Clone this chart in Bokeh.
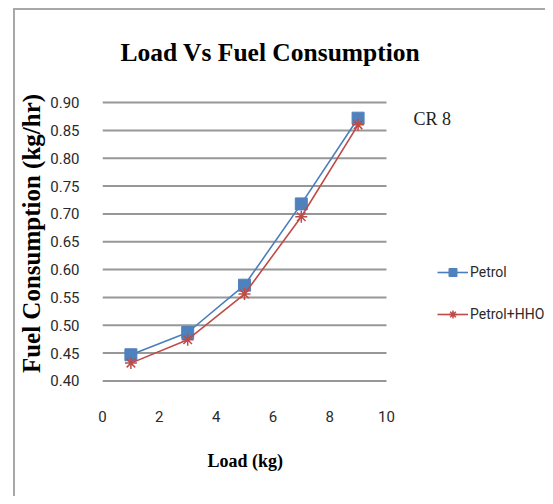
from bokeh.plotting import figure
from bokeh.models import Label, Legend, LegendItem, Range1d, FixedTicker, CustomJSTickFormatter, Title
from bokeh.embed import file_html
from bokeh.resources import INLINE

load = [1, 3, 5, 7, 9]
petrol = [0.447, 0.487, 0.572, 0.718, 0.872]
petrol_hho = [0.432, 0.474, 0.556, 0.695, 0.860]
x_ticks = [0, 2, 4, 6, 8, 10]
y_ticks = [0.40, 0.45, 0.50, 0.55, 0.60, 0.65, 0.70, 0.75, 0.80, 0.85, 0.90]

BLUE = "#4A7EBB"
BLUE_M = "#4F81BD"
RED = "#BE4B48"
GRID = "#979797"
SANS = "Roboto"
SERIF = "Liberation Serif"

p = figure(width=532, height=488, output_backend="svg", toolbar_location=None,
           x_range=Range1d(0, 15.67), y_range=Range1d(0.39, 0.9397),
           min_border_left=85, min_border_right=0, min_border_top=70, min_border_bottom=112,
           styles={"margin-top": "8px", "margin-left": "13px",
                   "border-left": "2px solid #a8a8a8", "border-top": "2px solid #a8a8a8"})
p.outline_line_color = None
p.background_fill_color = "white"

p.title.text = "Load Vs Fuel Consumption"
p.title.text_font = SERIF
p.title.text_font_size = "25.5px"
p.title.text_font_style = "bold"
p.title.text_color = "black"
p.title.align = "left"
p.title.offset = 18
p.title.standoff = 28

p.xaxis.ticker = FixedTicker(ticks=x_ticks)
p.yaxis.ticker = FixedTicker(ticks=y_ticks)
p.yaxis.formatter = CustomJSTickFormatter(code="return tick.toFixed(2);")
for ax in (p.xaxis, p.yaxis):
    ax.axis_line_color = None
    ax.major_tick_line_color = None
    ax.minor_tick_line_color = None
    ax.major_label_text_font = SANS
    ax.major_label_text_font_size = "15px"
    ax.major_label_text_color = "#2a2a2a"
    ax.axis_label_text_font = SERIF
    ax.axis_label_text_font_style = "bold"
    ax.axis_label_text_color = "black"
p.yaxis.major_label_standoff = 17
p.xaxis.major_label_standoff = 18
p.yaxis.axis_label = "Fuel Consumption (kg/hr)"
p.yaxis.axis_label_text_font_size = "25px"
p.yaxis.axis_label_standoff = 2

# x-axis title, placed under the 0..10 load axis
p.add_layout(Title(text="Load (kg)", text_font=SERIF, text_font_size="18px",
                   text_font_style="bold", text_color="black", align="left",
                   offset=105, standoff=48), "below")

p.xgrid.grid_line_color = None
p.ygrid.grid_line_color = None

# horizontal gridlines spanning only the 0..10 load axis
p.segment(x0=[x_ticks[0]] * len(y_ticks), x1=[x_ticks[-1]] * len(y_ticks),
          y0=y_ticks, y1=y_ticks, line_color=GRID, line_width=2)

l1 = p.line(load, petrol, line_color=BLUE, line_width=1.6)
m1 = p.scatter(load, petrol, marker="square", size=12, fill_color=BLUE_M, line_color=BLUE_M)
l2 = p.line(load, petrol_hho, line_color=RED, line_width=1.6)
m2 = p.scatter(load, petrol_hho, marker="asterisk", size=12, line_color=RED, line_width=1.5)

legend = Legend(items=[LegendItem(label="Petrol", renderers=[l1, m1]),
                       LegendItem(label="Petrol+HHO", renderers=[l2, m2])],
                location=(335, 62), padding=0, margin=0, spacing=22,
                glyph_width=31, glyph_height=20, label_standoff=2,
                border_line_color=None, background_fill_alpha=0,
                label_text_font=SANS, label_text_font_size="14px",
                label_text_color="#2a2a2a")
p.add_layout(legend, "center")

p.add_layout(Label(x=10.95, y=0.871, text="CR 8", text_font=SERIF, text_font_size="18px",
                   text_baseline="middle", text_align="left", text_color="#222222"))

open("out.html", "w").write(file_html(p, INLINE))
